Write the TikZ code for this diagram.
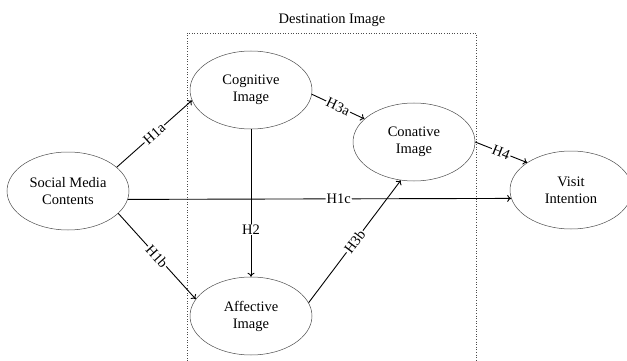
\documentclass[tikz,border=0pt]{standalone}
\usepackage{fontspec}
\setmainfont{Liberation Serif}
\usetikzlibrary{shapes.geometric, arrows.meta}

\begin{document}
\begin{tikzpicture}[%
  construct/.style = {ellipse, draw = black!70, line width = 0.5pt, inner sep = 0pt,
    minimum width = 122pt, minimum height = 78pt, align = center},
  path/.style = {line width = 0.9pt, -{To[length = 4pt, width = 7pt]}},
  hyp/.style = {midway, fill = white, inner sep = 1pt, sloped},
  x = 1pt, y = -1pt,
  font = \fontsize{14.5}{17}\selectfont]
  \useasboundingbox (0, 0) rectangle (627, 361);

  % destination image frame
  \draw[dotted, black!70, line width = 0.6pt] (187, 361) -- (187, 33) -- (476, 33) -- (476, 361);
  \node (dest) at (332, 20) {Destination Image};

  \node[construct] (soc) at (68, 191)  {Social Media\\Contents};
  \node[construct] (cog) at (251, 90)  {Cognitive\\Image};
  \node[construct] (aff) at (251, 316) {Affective\\Image};
  \node[construct] (con) at (414, 142) {Conative\\Image};
  \node[construct] (vis) at (571, 190) {Visit\\Intention};

  \draw[path] (soc.26) -- (cog.190) node[hyp] {H1a};
  \draw[path] (soc.-24) -- (aff.163) node[hyp] {H1b};
  \draw[path] (soc.-8) -- (vis.188) node[hyp, pos = 0.55] {H1c};
  \draw[path] (cog.south) -- (aff.north) node[pos = 0.68, fill = white, inner sep = 1pt] {H2};
  \draw[path] (cog.-4) -- (con.155) node[hyp] {H3a};
  \draw[path] (aff.13) -- (con.-109) node[hyp] {H3b};
  \draw[path] (con.east) -- (vis.148) node[hyp] {H4};
\end{tikzpicture}
\end{document}
